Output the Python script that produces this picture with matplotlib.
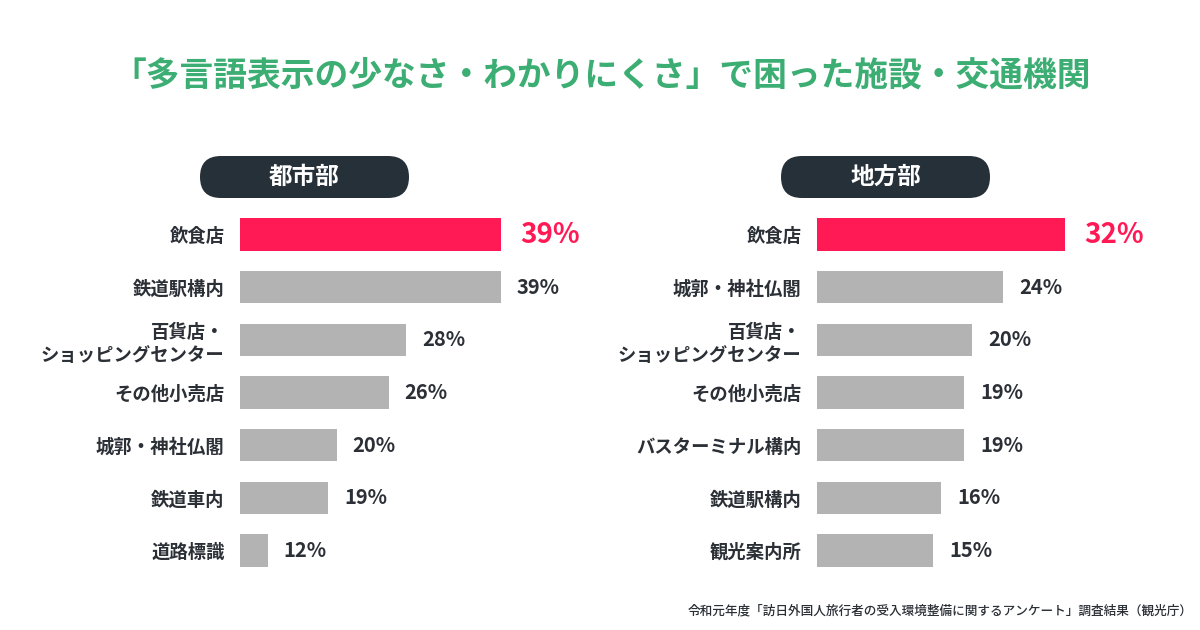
import matplotlib
matplotlib.use("Agg")
import matplotlib.pyplot as plt
import numpy as np
from matplotlib.patches import FancyBboxPatch

plt.rcParams['font.family'] = ['Noto Sans CJK JP', 'DejaVu Sans']

# data
title = "「多言語表示の少なさ・わかりにくさ」で困った施設・交通機関"
source = "令和元年度「訪日外国人旅行者の受入環境整備に関するアンケート」調査結果（観光庁）"

urban_title = "都市部"
urban_labels = ["飲食店", "鉄道駅構内", "百貨店・\nショッピングセンター", "その他小売店",
                "城郭・神社仏閣", "鉄道車内", "道路標識"]
urban_values = [39, 39, 28, 26, 20, 19, 12]

rural_title = "地方部"
rural_labels = ["飲食店", "城郭・神社仏閣", "百貨店・\nショッピングセンター", "その他小売店",
                "バスターミナル構内", "鉄道駅構内", "観光案内所"]
rural_values = [32, 24, 20, 19, 19, 16, 15]

GREEN = "#3dae73"
RED = "#ff1a55"
GRAY = "#b3b3b3"
NAVY = "#263039"
TEXT = "#2b2f36"

W, H = 1200, 630
fig = plt.figure(figsize=(W / 100, H / 100), dpi=100)
fig.patch.set_facecolor("white")

# overlay in pixel coordinates for title, pills and source
over = fig.add_axes([0, 0, 1, 1])
over.set_xlim(0, W)
over.set_ylim(H, 0)
over.axis("off")

over.text(W / 2 + 2, 75, title, color=GREEN, fontsize=24.3, fontweight="bold",
          ha="center", va="center")
over.text(1193, 611, source, color=TEXT, fontsize=9.1, fontweight="medium",
          ha="right", va="center")


def pill(cx, cy, text):
    w, h = 209, 42
    box = FancyBboxPatch((cx - w / 2, cy - h / 2), w, h,
                         boxstyle="round,pad=0,rounding_size=21",
                         fc=NAVY, ec="none")
    over.add_patch(box)
    over.text(cx, cy, text, color="white", fontsize=17, fontweight="bold",
              ha="center", va="center")


pill(304.5, 177, urban_title)
pill(885.5, 177, rural_title)

ax_bottom = (H - 576.9) / H
ax_height = 368.7 / H


def panel(left_px, x0, px_per_unit, labels, values):
    width_px = 330
    ax = fig.add_axes([left_px / W, ax_bottom, width_px / W, ax_height])
    ax.set_xlim(x0, x0 + width_px / px_per_unit)
    y = np.arange(len(values))
    colors = [RED] + [GRAY] * (len(values) - 1)
    ax.barh(y, np.array(values) - x0, left=x0, height=0.617, color=colors)
    ax.set_ylim(len(values) - 0.5, -0.5)
    ax.set_yticks(y)
    ax.set_yticklabels(labels, fontsize=13.2, fontweight="bold", color=TEXT)
    for t in ax.get_yticklabels():
        t.set_linespacing(1.25)
    ax.tick_params(axis="y", length=0, pad=11)
    ax.set_xticks([])
    for s in ax.spines.values():
        s.set_visible(False)
    ax.patch.set_alpha(0)
    for i, v in enumerate(values):
        if i == 0:
            ax.annotate(f"{v}%", xy=(v, i), xytext=(14, 0), textcoords="offset points",
                        va="center", ha="left", color=RED, fontsize=20,
                        fontweight="bold", annotation_clip=False)
        else:
            ax.annotate(f"{v}%", xy=(v, i), xytext=(11.5, 0), textcoords="offset points",
                        va="center", ha="left", color=TEXT, fontsize=14.5,
                        fontweight="bold", annotation_clip=False)
    return ax


panel(240, 8.8, 8.64, urban_labels, urban_values)
panel(817, 0.0, 7.755, rural_labels, rural_values)

fig.savefig("out.png", dpi=100, facecolor="white")
